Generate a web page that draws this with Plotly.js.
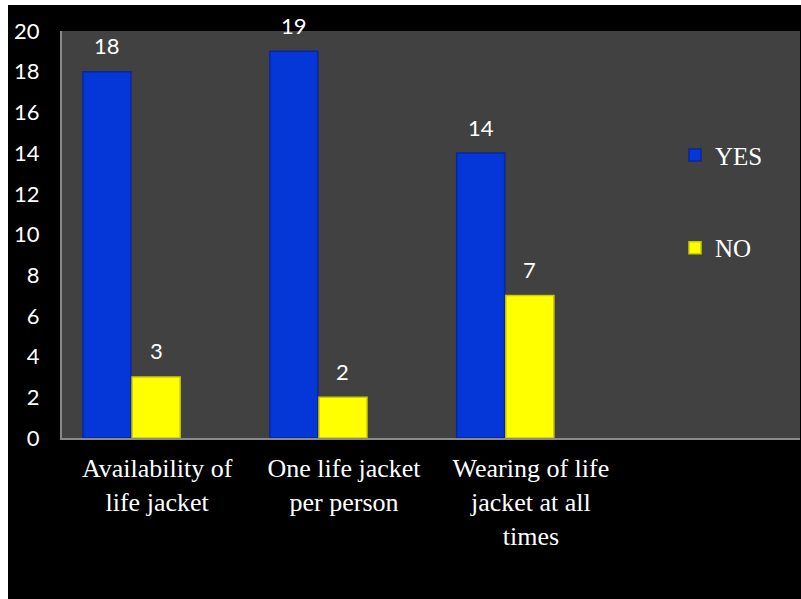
<!DOCTYPE html>
<html>
<head>
<meta charset="utf-8">
<script src="https://cdn.plot.ly/plotly-3.0.1.min.js"></script>
<style>
  html, body { margin: 0; padding: 0; background: #ffffff; }
  #chart { position: absolute; left: 8px; top: 5px; width: 793px; height: 594px; }
</style>
</head>
<body>
<div id="chart"></div>
<script>
const categories = ["Availability of<br>life jacket", "One life jacket<br>per person", "Wearing of life<br>jacket at all<br>times"];
const yesValues = [18, 19, 14];
const noValues = [3, 2, 7];
const yTicks = [0, 2, 4, 6, 8, 10, 12, 14, 16, 18, 20];

const xIdx = categories.map((c, i) => i);
const barWidth = 0.257;
const yesOffset = -0.397;
const noOffset = -0.134;

const serif = "Liberation Serif";
const sans = "Lato";

const yesTrace = {
  type: "bar", name: "YES", x: xIdx, y: yesValues,
  offset: yesOffset, width: barWidth,
  marker: { color: "#0436d8", line: { color: "#0826a0", width: 1.5 } },
  legend: "legend", hoverinfo: "skip"
};
const noTrace = {
  type: "bar", name: "NO", x: xIdx, y: noValues,
  offset: noOffset, width: barWidth,
  marker: { color: "#ffff00", line: { color: "#cccc00", width: 1.5 } },
  legend: "legend2", hoverinfo: "skip"
};

const annotations = [];
yesValues.forEach((v, i) => annotations.push({
  x: i + yesOffset + barWidth / 2, y: v, text: String(v), showarrow: false,
  yshift: 26, font: { family: sans, size: 22, color: "#ffffff" }
}));
noValues.forEach((v, i) => annotations.push({
  x: i + noOffset + barWidth / 2, y: v, text: String(v), showarrow: false,
  yshift: 26, font: { family: sans, size: 22, color: "#ffffff" }
}));

const legendFont = { family: serif, size: 25, color: "#ffffff" };

const layout = {
  width: 793, height: 594,
  margin: { l: 54, r: 1, t: 26, b: 161 },
  paper_bgcolor: "#000000",
  plot_bgcolor: "#414141",
  barmode: "overlay",
  showlegend: true,
  xaxis: {
    range: [-0.509, 3.44],
    tickmode: "array", tickvals: xIdx, ticktext: categories,
    ticks: "", showgrid: false, zeroline: false,
    showline: true, linecolor: "#8a8a8a", linewidth: 2,
    tickfont: { family: serif, size: 26, color: "#ffffff" },
    ticklabelstandoff: 6
  },
  yaxis: {
    range: [0, 20],
    tickmode: "array", tickvals: yTicks, ticktext: yTicks.map(String),
    ticks: "", showgrid: false, zeroline: false,
    showline: true, linecolor: "#8a8a8a", linewidth: 2,
    tickfont: { family: sans, size: 22, color: "#ffffff" },
    ticklabelstandoff: 16
  },
  legend: {
    x: 0.8306, y: 0.695, xanchor: "left", yanchor: "middle",
    bgcolor: "rgba(0,0,0,0)", font: legendFont, itemwidth: 30
  },
  legend2: {
    x: 0.8306, y: 0.467, xanchor: "left", yanchor: "middle",
    bgcolor: "rgba(0,0,0,0)", font: legendFont, itemwidth: 30
  },
  annotations: annotations
};

Plotly.newPlot("chart", [yesTrace, noTrace], layout, { displayModeBar: false, staticPlot: true });
</script>
</body>
</html>
